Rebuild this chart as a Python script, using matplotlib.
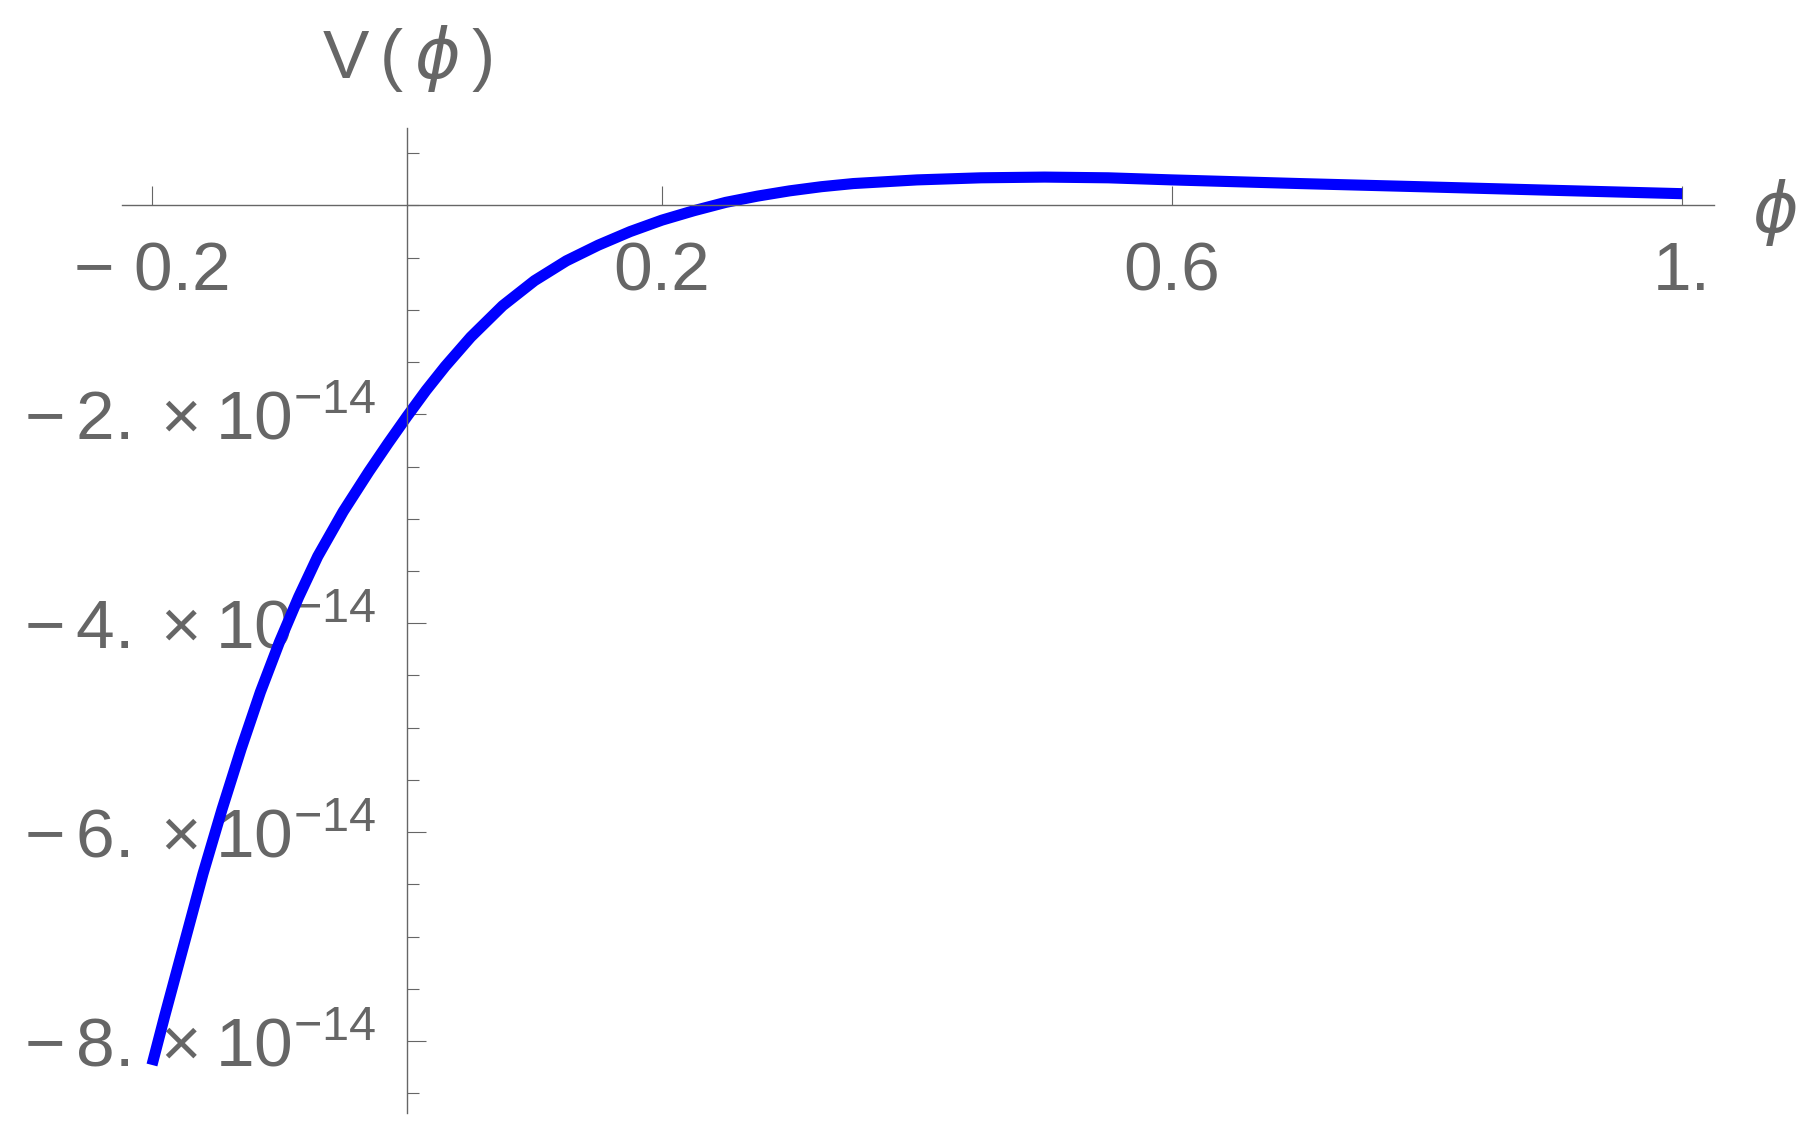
import numpy as np
import matplotlib
matplotlib.use("Agg")
import matplotlib.pyplot as plt
from matplotlib.ticker import FixedLocator, MultipleLocator, FuncFormatter

plt.rcParams['font.family'] = ['Liberation Sans', 'DejaVu Sans']
plt.rcParams['mathtext.fontset'] = 'custom'
plt.rcParams['mathtext.rm'] = 'Liberation Sans'
plt.rcParams['mathtext.it'] = 'DejaVu Sans:italic'
plt.rcParams['mathtext.sf'] = 'Liberation Sans'

# potential, V in units of 1e-14
phi = [-0.200, -0.190, -0.175, -0.160, -0.145, -0.130, -0.115, -0.100, -0.085,
       -0.070, -0.050, -0.030, -0.015, 0.000, 0.015, 0.030, 0.050, 0.075,
       0.100, 0.125, 0.150, 0.175, 0.200, 0.225, 0.250, 0.275, 0.300, 0.325,
       0.350, 0.400, 0.450, 0.500, 0.550, 0.600, 0.700, 0.800, 0.900, 1.000]
V = [-8.23, -7.76, -7.08, -6.40, -5.78, -5.20, -4.66, -4.18, -3.75,
     -3.36, -2.93, -2.55, -2.28, -2.02, -1.77, -1.54, -1.26, -0.96,
     -0.72, -0.53, -0.38, -0.25, -0.14, -0.05, 0.03, 0.09, 0.14, 0.18,
     0.21, 0.245, 0.265, 0.272, 0.265, 0.245, 0.21, 0.178, 0.145, 0.113]
scale = 1e-14

x_ticks = [-0.2, 0.2, 0.6, 1.0]
x_labels = ['\u2212 0.2', '0.2', '0.6', '1.']
y_ticks = [-8, -6, -4, -2]

grey = '#666666'
W, H = 1820, 1135
fig = plt.figure(figsize=(W / 100, H / 100), dpi=100)
ax = fig.add_axes([122 / W, (H - 1113) / H, (1714 - 122) / W, (1113 - 128) / H])

ax.plot(phi, np.array(V) * scale, color='#0000ff', lw=8,
        solid_capstyle='butt', solid_joinstyle='round')

ax.set_xlim(-0.2235, 1.025)
ax.set_ylim(-8.69e-14, 0.742e-14)

for s in ['top', 'right']:
    ax.spines[s].set_visible(False)
ax.spines['left'].set_position(('data', 0))
ax.spines['bottom'].set_position(('data', 0))
for s in ['left', 'bottom']:
    ax.spines[s].set_color(grey)
    ax.spines[s].set_linewidth(1)

ax.xaxis.set_major_locator(FixedLocator(x_ticks))
ax.set_xticklabels(x_labels)
ax.yaxis.set_major_locator(FixedLocator([t * scale for t in y_ticks]))
ax.yaxis.set_minor_locator(MultipleLocator(0.5 * scale))
ax.yaxis.set_major_formatter(FuncFormatter(
    lambda v, p: r'$-\,%d.\times 10^{-14}$' % round(-v / scale)))

ax.tick_params(axis='both', which='major', direction='in', length=13.7,
               width=0.8, color=grey, labelcolor=grey, labelsize=50)
ax.tick_params(axis='y', which='minor', direction='in', length=8.6,
               width=0.8, color=grey)
ax.tick_params(axis='x', pad=25)
ax.tick_params(axis='y', pad=22)

ax.annotate(r'$\mathrm{V}\,(\,\phi\,)$', xy=(0, 1), xycoords=('data', 'axes fraction'),
            xytext=(0, 36), textcoords='offset points', ha='center', va='baseline',
            fontsize=50, color=grey)
ax.annotate(r'$\phi$', xy=(1, 0), xycoords=('axes fraction', 'data'),
            xytext=(27, -5), textcoords='offset points', ha='left', va='center',
            fontsize=50, color=grey)

fig.savefig('out.png', dpi=100)
